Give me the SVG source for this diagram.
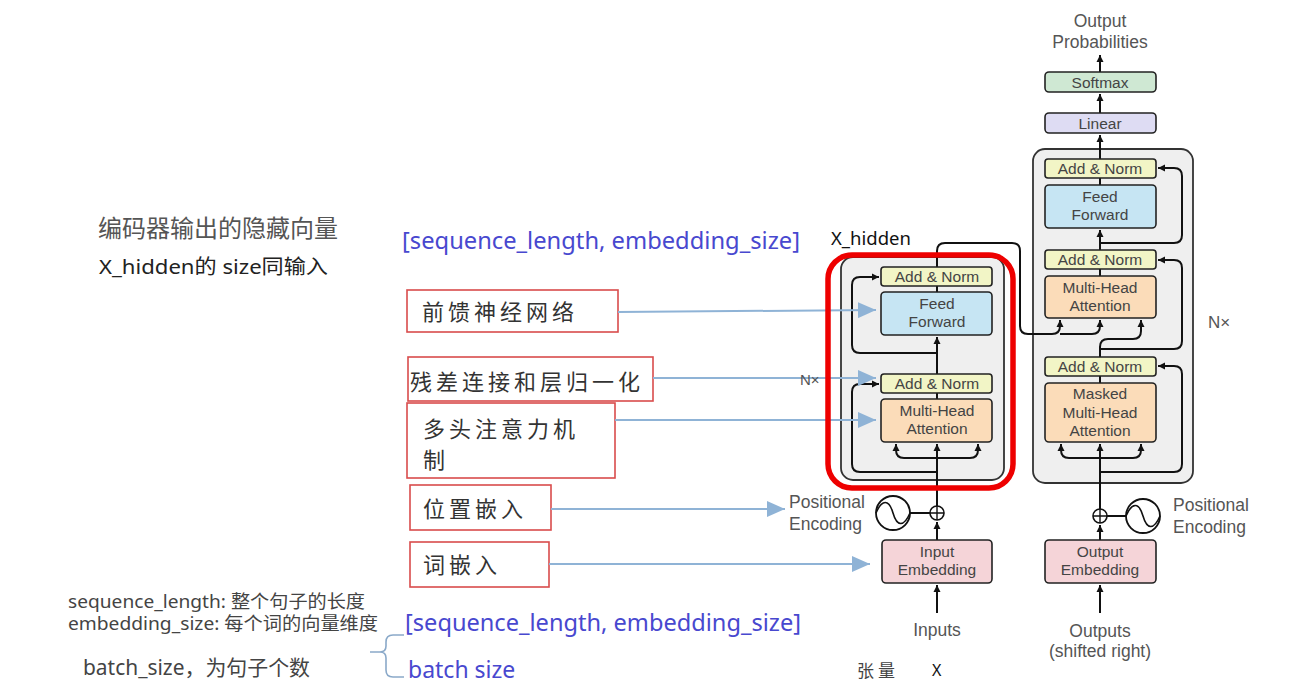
<svg xmlns="http://www.w3.org/2000/svg" width="1316" height="696" viewBox="0 0 1316 696">
<style>
.box{stroke:#222;stroke-width:1.6}
.an{fill:#f2f5c6}.ff{fill:#c6e5f3}.mha{fill:#fbdcb9}.emb{fill:#f5d4d8}.sm{fill:#cfe8d3}.lin{fill:#dedcf3}
.lbl{font-family:"Liberation Sans",Arial,sans-serif;font-size:15.5px;fill:#444;text-anchor:middle}
.big{font-family:"Liberation Sans",Arial,sans-serif;font-size:17.5px;fill:#555}
.wire{fill:none;stroke:#111;stroke-width:2}
.blue{stroke:#8fb3d6;stroke-width:2;fill:none}
.rbox{fill:#fff;stroke:#d94c4c;stroke-width:1.6}
.cn{font-family:"Noto Sans CJK SC",sans-serif;font-size:22px;fill:#333;letter-spacing:4px}
.bt{font-family:"Noto Sans","Noto Sans CJK SC",sans-serif;font-size:23px;fill:#4848cf}
.note{font-family:"Noto Sans","Noto Sans CJK SC",sans-serif;fill:#444}
.gray{fill:#efefef;stroke:#333;stroke-width:1.8}
</style>
<defs>
<marker id="ah" markerUnits="userSpaceOnUse" markerWidth="8" markerHeight="8" refX="7" refY="4" orient="auto"><path d="M0,0.5 L7,4 L0,7.5 z" fill="#111"/></marker>
<marker id="bh" markerUnits="userSpaceOnUse" markerWidth="18" markerHeight="16" refX="18" refY="8" orient="auto"><path d="M0,0 L18,8 L0,16 z" fill="#8fb3d6"/></marker>
</defs>

<!-- left notes -->
<g id="notes">
<text x="98" y="237" class="note" style="font-size:24px;fill:#555">编码器输出的隐藏向量</text>
<text x="99" y="274" class="note" style="font-size:20px;fill:#222" textLength="229" lengthAdjust="spacingAndGlyphs">X_hidden的 size同输入</text>
<text x="402" y="249" class="bt" textLength="398" lengthAdjust="spacingAndGlyphs">[sequence_length, embedding_size]</text>
<text x="831" y="245" class="note" style="font-size:18.5px;fill:#111">X_hidden</text>
<text x="68" y="608" class="note" style="font-size:18px" textLength="297" lengthAdjust="spacingAndGlyphs">sequence_length: 整个句子的长度</text>
<text x="68" y="630" class="note" style="font-size:18px" textLength="310" lengthAdjust="spacingAndGlyphs">embedding_size: 每个词的向量维度</text>
<text x="83" y="675" class="note" style="font-size:21px" textLength="227" lengthAdjust="spacingAndGlyphs">batch_size，为句子个数</text>
<path d="M404,635 L393,635 Q386,635 386,642 L386,646 Q386,652 380,652 L370,652 M380,652 Q386,652 386,658 L386,670 Q386,677 393,677 L404,677" fill="none" stroke="#8aa9c9" stroke-width="1.6"/>
<text x="405" y="631" class="bt" textLength="396" lengthAdjust="spacingAndGlyphs">[sequence_length, embedding_size]</text>
<text x="408" y="678" class="bt">batch size</text>
<text x="857" y="677" class="note" style="font-size:17px;letter-spacing:4px">张量</text>
<text x="932" y="676" class="note" style="font-size:16px;fill:#111">X</text>
</g>

<!-- annotation boxes -->
<g id="ann-ff"><rect x="407" y="290" width="211" height="42" class="rbox"/><text x="422" y="320" class="cn">前馈神经网络</text></g>
<g id="ann-res"><rect x="408" y="357" width="245" height="44" class="rbox"/><text x="410" y="390" class="cn">残差连接和层归一化</text></g>
<g id="ann-mha"><rect x="407" y="403" width="208" height="75" class="rbox"/><text x="423" y="437" class="cn">多头注意力机</text><text x="423" y="468" class="cn">制</text></g>
<g id="ann-pos"><rect x="410" y="485" width="141" height="45" class="rbox"/><text x="423" y="517" class="cn">位置嵌入</text></g>
<g id="ann-emb"><rect x="410" y="542" width="139" height="45" class="rbox"/><text x="423" y="573" class="cn">词嵌入</text></g>

<!-- encoder frame -->
<g id="encoder-frame"><rect x="841" y="257" width="163" height="223" rx="12" class="gray"/></g>
<!-- decoder frame -->
<g id="decoder-frame"><rect x="1033" y="149" width="160" height="334" rx="12" class="gray"/></g>

<!-- connectors -->
<g id="connectors">
<!-- encoder -->
<path class="wire" d="M937,613 L937,585" marker-end="url(#ah)"/>
<path class="wire" d="M937,540 L937,522" marker-end="url(#ah)"/>
<path class="wire" d="M937,506 L937,444" marker-end="url(#ah)"/>
<path class="wire" d="M937,458 L904,458 Q896,458 896,450 L896,444" marker-end="url(#ah)"/>
<path class="wire" d="M937,458 L970,458 Q978,458 978,450 L978,444" marker-end="url(#ah)"/>
<path class="wire" d="M937,472 L860,472 Q852,472 852,464 L852,392 Q852,384 860,384 L879,384" marker-end="url(#ah)"/>
<path class="wire" d="M937,399 L937,393"/>
<path class="wire" d="M937,374 L937,337" marker-end="url(#ah)"/>
<path class="wire" d="M937,353 L860,353 Q852,353 852,345 L852,285 Q852,277 860,277 L879,277" marker-end="url(#ah)"/>
<path class="wire" d="M937,292 L937,286"/>
<path class="wire" d="M937,267 L937,251 Q937,243 945,243 L1012,243 Q1020,243 1020,251 L1020,326 Q1020,334 1028,334 L1052,334 Q1060,334 1060,326 L1060,320" marker-end="url(#ah)"/>
<path class="wire" d="M1060,334 L1092,334 Q1100,334 1100,326 L1100,320" marker-end="url(#ah)"/>
<!-- decoder -->
<path class="wire" d="M1100,613 L1100,585" marker-end="url(#ah)"/>
<path class="wire" d="M1100,540 L1100,525" marker-end="url(#ah)"/>
<path class="wire" d="M1100,509 L1100,444" marker-end="url(#ah)"/>
<path class="wire" d="M1100,458 L1069,458 Q1061,458 1061,450 L1061,444" marker-end="url(#ah)"/>
<path class="wire" d="M1100,458 L1133,458 Q1141,458 1141,450 L1141,444" marker-end="url(#ah)"/>
<path class="wire" d="M1100,472 L1174,472 Q1182,472 1182,464 L1182,374 Q1182,366 1174,366 L1158,366" marker-end="url(#ah)"/>
<path class="wire" d="M1100,383 L1100,376"/>
<path class="wire" d="M1100,357 L1100,347 Q1100,339 1108,339 L1133,339 Q1141,339 1141,331 L1141,320" marker-end="url(#ah)"/>
<path class="wire" d="M1100,349 L1174,349 Q1182,349 1182,341 L1182,268 Q1182,260 1174,260 L1158,260" marker-end="url(#ah)"/>
<path class="wire" d="M1100,276 L1100,269"/>
<path class="wire" d="M1100,250 L1100,230" marker-end="url(#ah)"/>
<path class="wire" d="M1100,243 L1174,243 Q1182,243 1182,235 L1182,176 Q1182,168 1174,168 L1158,168" marker-end="url(#ah)"/>
<path class="wire" d="M1100,185 L1100,178"/>
<path class="wire" d="M1100,159 L1100,135" marker-end="url(#ah)"/>
<path class="wire" d="M1100,113 L1100,94" marker-end="url(#ah)"/>
<path class="wire" d="M1100,72 L1100,55" marker-end="url(#ah)"/>
<!-- positional encoding links -->
<path class="wire" d="M910,513 L930,513"/>
<path class="wire" d="M1107,516 L1126,516"/>
<!-- annotation arrows -->
<path class="blue" d="M618,312 L876,310" marker-end="url(#bh)"/>
<path class="blue" d="M653,378 L876,378" marker-end="url(#bh)"/>
<path class="blue" d="M615,420 L876,420" marker-end="url(#bh)"/>
<path class="blue" d="M551,509 L785,509" marker-end="url(#bh)"/>
<path class="blue" d="M549,564 L870,564" marker-end="url(#bh)"/>
</g>

<!-- encoder nodes -->
<g id="enc-addnorm2"><rect x="881" y="267" width="111" height="19" rx="3" class="box an"/><text x="937" y="282" class="lbl">Add &amp; Norm</text></g>
<g id="enc-ff"><rect x="881" y="292" width="111" height="43" rx="4" class="box ff"/><text x="937" y="309" class="lbl">Feed</text><text x="937" y="327" class="lbl">Forward</text></g>
<g id="enc-addnorm1"><rect x="881" y="374" width="111" height="19" rx="3" class="box an"/><text x="937" y="389" class="lbl">Add &amp; Norm</text></g>
<g id="enc-mha"><rect x="881" y="399" width="111" height="43" rx="4" class="box mha"/><text x="937" y="416" class="lbl">Multi-Head</text><text x="937" y="434" class="lbl">Attention</text></g>
<g id="enc-emb"><rect x="882" y="540" width="110" height="43" rx="4" class="box emb"/><text x="937" y="557" class="lbl">Input</text><text x="937" y="575" class="lbl">Embedding</text></g>
<g id="enc-pe">
<circle cx="937" cy="513" r="7" fill="#fff" stroke="#111" stroke-width="1.6"/>
<path d="M930,513 L944,513 M937,506 L937,520" stroke="#111" stroke-width="1.4"/>
<circle cx="893" cy="513" r="17" fill="#fff" stroke="#111" stroke-width="1.8"/>
<path d="M876,513 C882,499 889,499 893,513 C897,527 904,527 910,513" fill="none" stroke="#111" stroke-width="1.6"/>
<text x="789" y="508" class="big">Positional</text><text x="789" y="530" class="big">Encoding</text>
</g>
<text x="937" y="636" class="big" style="text-anchor:middle">Inputs</text>
<text x="800" y="385" class="lbl" style="text-anchor:start;font-size:15px;fill:#555">N×</text>

<!-- red highlight -->
<g id="highlight"><rect x="828" y="255" width="185" height="233" rx="24" fill="none" stroke="#ee0000" stroke-width="5.5"/></g>

<!-- decoder nodes -->
<g id="dec-softmax"><rect x="1045" y="72" width="111" height="20" rx="4" class="box sm"/><text x="1100" y="88" class="lbl">Softmax</text></g>
<g id="dec-linear"><rect x="1045" y="113" width="111" height="20" rx="4" class="box lin"/><text x="1100" y="129" class="lbl">Linear</text></g>
<g id="dec-addnorm3"><rect x="1045" y="159" width="111" height="19" rx="3" class="box an"/><text x="1100" y="174" class="lbl">Add &amp; Norm</text></g>
<g id="dec-ff"><rect x="1045" y="185" width="111" height="43" rx="4" class="box ff"/><text x="1100" y="202" class="lbl">Feed</text><text x="1100" y="220" class="lbl">Forward</text></g>
<g id="dec-addnorm2"><rect x="1045" y="250" width="111" height="19" rx="3" class="box an"/><text x="1100" y="265" class="lbl">Add &amp; Norm</text></g>
<g id="dec-mha"><rect x="1045" y="276" width="111" height="42" rx="4" class="box mha"/><text x="1100" y="293" class="lbl">Multi-Head</text><text x="1100" y="311" class="lbl">Attention</text></g>
<g id="dec-addnorm1"><rect x="1045" y="357" width="111" height="19" rx="3" class="box an"/><text x="1100" y="372" class="lbl">Add &amp; Norm</text></g>
<g id="dec-mmha"><rect x="1045" y="383" width="111" height="59" rx="4" class="box mha"/><text x="1100" y="399" class="lbl">Masked</text><text x="1100" y="418" class="lbl">Multi-Head</text><text x="1100" y="436" class="lbl">Attention</text></g>
<g id="dec-emb"><rect x="1045" y="540" width="111" height="43" rx="4" class="box emb"/><text x="1100" y="557" class="lbl">Output</text><text x="1100" y="575" class="lbl">Embedding</text></g>
<g id="dec-pe">
<circle cx="1100" cy="516" r="7" fill="#fff" stroke="#111" stroke-width="1.6"/>
<path d="M1093,516 L1107,516 M1100,509 L1100,523" stroke="#111" stroke-width="1.4"/>
<circle cx="1143" cy="516" r="17" fill="#fff" stroke="#111" stroke-width="1.8"/>
<path d="M1126,516 C1132,502 1139,502 1143,516 C1147,530 1154,530 1160,516" fill="none" stroke="#111" stroke-width="1.6"/>
<text x="1173" y="511" class="big">Positional</text><text x="1173" y="533" class="big">Encoding</text>
</g>
<text x="1100" y="27" class="big" style="text-anchor:middle">Output</text>
<text x="1100" y="48" class="big" style="text-anchor:middle">Probabilities</text>
<text x="1100" y="637" class="big" style="text-anchor:middle">Outputs</text>
<text x="1100" y="657" class="big" style="text-anchor:middle">(shifted right)</text>
<text x="1208" y="328" class="big" style="font-size:17px">N×</text>
</svg>
